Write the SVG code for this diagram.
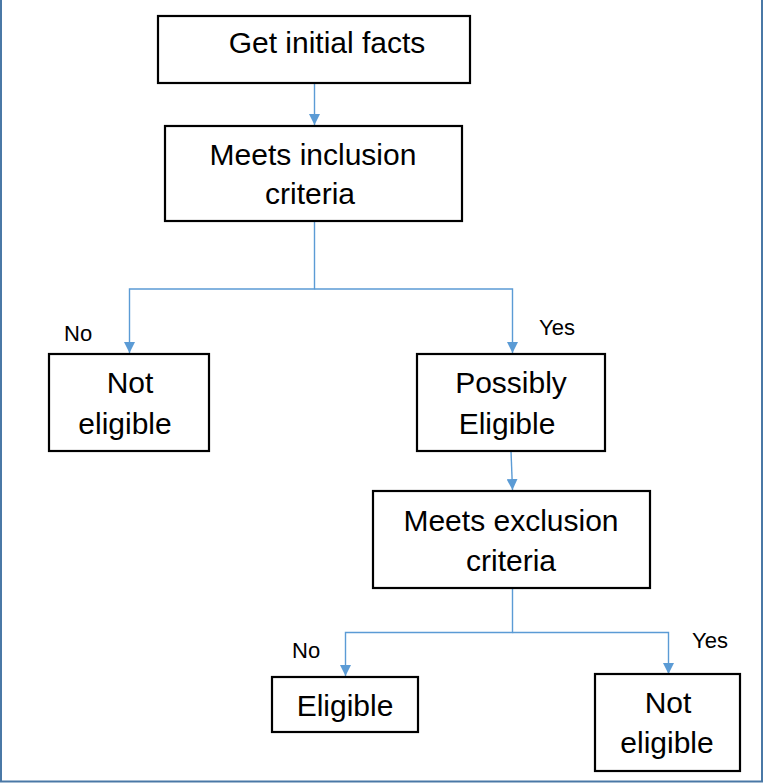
<svg xmlns="http://www.w3.org/2000/svg" width="763" height="783" viewBox="0 0 763 783">
<defs>
<style>
.box{fill:#ffffff;stroke:#000000;stroke-width:2.2}
.t{font-family:"Liberation Sans",Arial,sans-serif;font-size:30px;fill:#000;text-anchor:middle}
.lbl{font-family:"Liberation Sans",Arial,sans-serif;font-size:22px;fill:#000}
.c{fill:none;stroke:#5B9BD5;stroke-width:1.4}
.frame{stroke:#4a78a6;stroke-width:2;fill:none}
</style>
<marker id="arr" viewBox="0 0 10 10" refX="10" refY="5" markerWidth="11" markerHeight="11" markerUnits="userSpaceOnUse" orient="auto">
<path d="M0,0 L10,5 L0,10 z" fill="#5B9BD5"/>
</marker>
</defs>
<rect width="763" height="783" fill="#ffffff"/>
<g id="frame">
<line class="frame" x1="1" y1="0" x2="1" y2="782"/>
<line class="frame" x1="762" y1="0" x2="762" y2="782"/>
<line class="frame" x1="0" y1="781.5" x2="763" y2="781.5"/>
</g>
<g id="connectors">
<path class="c" d="M314.5,84 V125" marker-end="url(#arr)"/>
<path class="c" d="M314.5,222 V289 H129.5 V353" marker-end="url(#arr)"/>
<path class="c" d="M314.5,289 H512.5 V353" marker-end="url(#arr)"/>
<path class="c" d="M511,451 L512.5,490" marker-end="url(#arr)"/>
<path class="c" d="M512.5,588 V632.5 H345.5 V676" marker-end="url(#arr)"/>
<path class="c" d="M512.5,632.5 H668.5 V674" marker-end="url(#arr)"/>
</g>
<g id="labels">
<text class="lbl" x="64" y="341">No</text>
<text class="lbl" x="539" y="335">Yes</text>
<text class="lbl" x="292" y="658">No</text>
<text class="lbl" x="692" y="648">Yes</text>
</g>
<g id="n1">
<rect class="box" x="158" y="16" width="312" height="67"/>
<text class="t" x="327" y="53">Get initial facts</text>
</g>
<g id="n2">
<rect class="box" x="165" y="126" width="297" height="95"/>
<text class="t" x="313" y="165">Meets inclusion</text>
<text class="t" x="310" y="204">criteria</text>
</g>
<g id="n3">
<rect class="box" x="49" y="354" width="160" height="97"/>
<text class="t" x="130" y="393">Not</text>
<text class="t" x="125" y="434">eligible</text>
</g>
<g id="n4">
<rect class="box" x="417" y="354" width="188" height="97"/>
<text class="t" x="511" y="393">Possibly</text>
<text class="t" x="507" y="434">Eligible</text>
</g>
<g id="n5">
<rect class="box" x="373" y="491" width="277" height="97"/>
<text class="t" x="511" y="531">Meets exclusion</text>
<text class="t" x="511" y="571">criteria</text>
</g>
<g id="n6">
<rect class="box" x="272" y="677" width="146" height="55"/>
<text class="t" x="345" y="716">Eligible</text>
</g>
<g id="n7">
<rect class="box" x="595" y="674" width="145" height="97"/>
<text class="t" x="668" y="713">Not</text>
<text class="t" x="667" y="753">eligible</text>
</g>
</svg>
